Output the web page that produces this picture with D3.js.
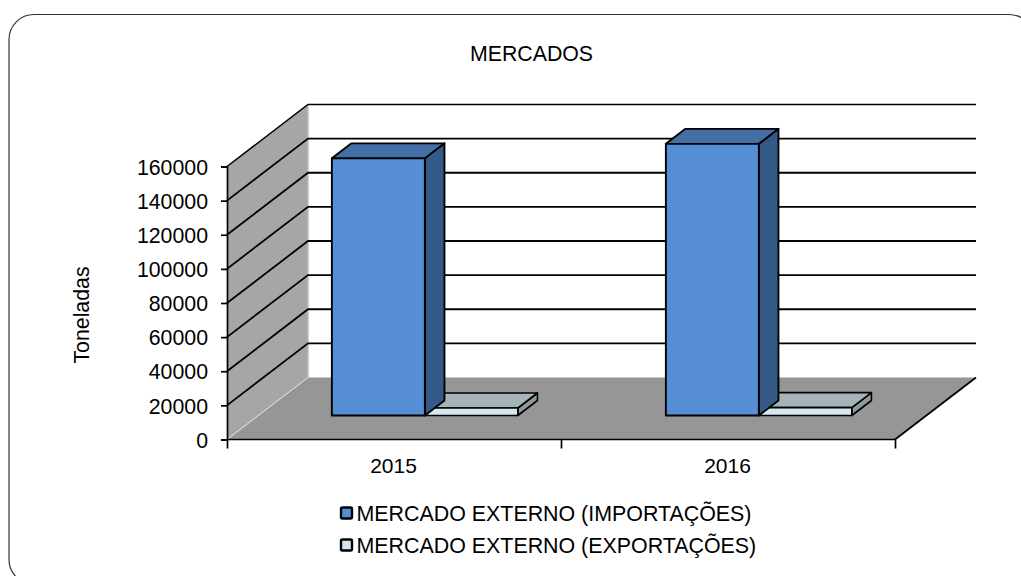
<!DOCTYPE html>
<html><head><meta charset="utf-8">
<script src="https://cdnjs.cloudflare.com/ajax/libs/d3/7.8.5/d3.min.js"></script>
<style>html,body{margin:0;padding:0;background:#fff}svg{display:block}text{font-family:"Liberation Sans",Arial,sans-serif;fill:#000}</style>
</head><body><svg id="c" width="1021" height="576"></svg>
<script>
const titleText = "MERCADOS";
const yAxisLabel = "Toneladas";
const years = ["2015","2016"];
const seriesNames = ["MERCADO EXTERNO (IMPORTAÇÕES)","MERCADO EXTERNO (EXPORTAÇÕES)"];
const importacoes = [150700,159200];
const exportacoes = [4400,4600];
const yTicks = [0,20000,40000,60000,80000,100000,120000,140000,160000];
const frontColors = ["#558ed5","#d5e8f0"];
const topColors = ["#436ea6","#a6b4b8"];
const sideColors = ["#355a88","#8a9ba0"];

const svg = d3.select("#c");
const y = d3.scaleLinear().domain([0,160000]).range([439.5,166.5]);
const x = d3.scaleBand().domain(years).range([227,895]);
const inner = d3.scaleBand().domain([0,1]).range([0.2201,0.7769]);
const zx = d3.scaleLinear().domain([0,1]).range([0,81]);
const zy = d3.scaleLinear().domain([0,1]).range([0,-62]);
const P = (px,v,z)=>[px+zx(z), y(v)+zy(z)];
const line = d3.line();
const poly = pts => line(pts)+"Z";

// frame
svg.append("rect").attr("x",9).attr("y",14.5).attr("width",1025).attr("height",570).attr("rx",25).attr("ry",25)
  .attr("fill","#fff").attr("stroke","#333").attr("stroke-width",1.2);

// walls and floor
svg.append("path").attr("d",poly([P(227,0,0),P(227,160000,0),P(227,160000,1),P(227,0,1)])).attr("fill","#a6a6a6");
svg.append("path").attr("d",poly([P(227,0,0),P(895,0,0),P(895,0,1),P(227,0,1)])).attr("fill","#969696");
svg.append("path").attr("d",line([P(227,0,0),P(227,0,1)])).attr("stroke","#e4e4e4").attr("stroke-width",1).attr("fill","none");
svg.append("path").attr("d",line([P(227,0,1),P(227,160000,1)])).attr("stroke","#bdbdbd").attr("stroke-width",1.5).attr("fill","none");
svg.append("path").attr("d",line([P(227,0,1),P(895,0,1)])).attr("stroke","#c8c8c8").attr("stroke-width",1).attr("fill","none");

// gridlines
yTicks.filter(t=>t>0).forEach(t=>{
  svg.append("path").attr("d",line([P(227,t,0),P(227,t,1),P(895,t,1)])).attr("fill","none").attr("stroke","#000").attr("stroke-width",t===160000?1.5:1.8);
});

// bars
const zFront = 24/62, zBack = 39/62;
function bar(px0,px1,v,i){
  const g = svg.append("g").attr("stroke","#000").attr("stroke-width",i?1.6:1.9).attr("stroke-linejoin","round");
  g.append("path").attr("d",poly([P(px1,0,zFront),P(px1,v,zFront),P(px1,v,zBack),P(px1,0,zBack)])).attr("fill",sideColors[i]);
  g.append("path").attr("d",poly([P(px0,v,zFront),P(px1,v,zFront),P(px1,v,zBack),P(px0,v,zBack)])).attr("fill",topColors[i]);
  g.append("path").attr("d",poly([P(px0,0,zFront),P(px1,0,zFront),P(px1,v,zFront),P(px0,v,zFront)])).attr("fill",frontColors[i]);
}
years.forEach((yr,k)=>{
  const bw = x.bandwidth(), sub = inner.bandwidth()*bw;
  const a0 = x(yr)+inner(0)*bw, a1 = a0+sub, b1 = a1+sub;
  bar(a1,b1,exportacoes[k],1);
  bar(a0,a1,importacoes[k],0);
});

// axes
const yAxis = d3.axisLeft(y).tickValues(yTicks).tickSize(6).tickFormat(d3.format("d"));
const yG = svg.append("g").attr("transform","translate(227,0)").call(yAxis);
yG.selectAll("path,line").attr("stroke","#000").attr("stroke-width",1.7);
yG.selectAll("text").attr("font-size",21.3).attr("x",-19).attr("dy","0.36em").style("font-family",'"Liberation Sans"');
yG.attr("font-family",null);

const xAxis = d3.axisBottom(d3.scaleLinear().domain([0,2]).range([227,895])).tickValues([0,1,2]).tickSize(9).tickFormat("");
const xG = svg.append("g").attr("transform","translate(0,439.5)").call(xAxis);
xG.selectAll("path,line").attr("stroke","#000").attr("stroke-width",1.7);
xG.select(".domain").attr("d",line([[227,0],[895,0]]));
svg.append("path").attr("d",line([P(895,0,0),P(895,0,1)])).attr("stroke","#000").attr("stroke-width",1.7).attr("fill","none");

svg.selectAll(".yr").data(years).join("text").attr("class","yr")
  .attr("x",d=>x(d)+x.bandwidth()/2-0.5).attr("y",473).attr("text-anchor","middle").attr("font-size",21).text(d=>d);

// titles
svg.append("text").attr("x",531.5).attr("y",61).attr("text-anchor","middle").attr("font-size",21.3).text(titleText);
svg.append("text").attr("transform","translate(88.5,315) rotate(-90)").attr("text-anchor","middle").attr("font-size",21.3).text(yAxisLabel);

// legend
const legY = d3.scalePoint().domain(seriesNames).range([513,545]);
const leg = svg.selectAll(".leg").data(seriesNames).join("g").attr("class","leg").attr("transform",d=>`translate(0,${legY(d)})`);
leg.append("rect").attr("x",341).attr("y",-5.5).attr("width",11).attr("height",11).attr("rx",1.5).attr("fill",(d,i)=>frontColors[i]).attr("stroke","#000").attr("stroke-width",2.4);
leg.append("text").attr("x",356.5).attr("y",7.5).attr("font-size",21.4).text(d=>d);
</script></body></html>
